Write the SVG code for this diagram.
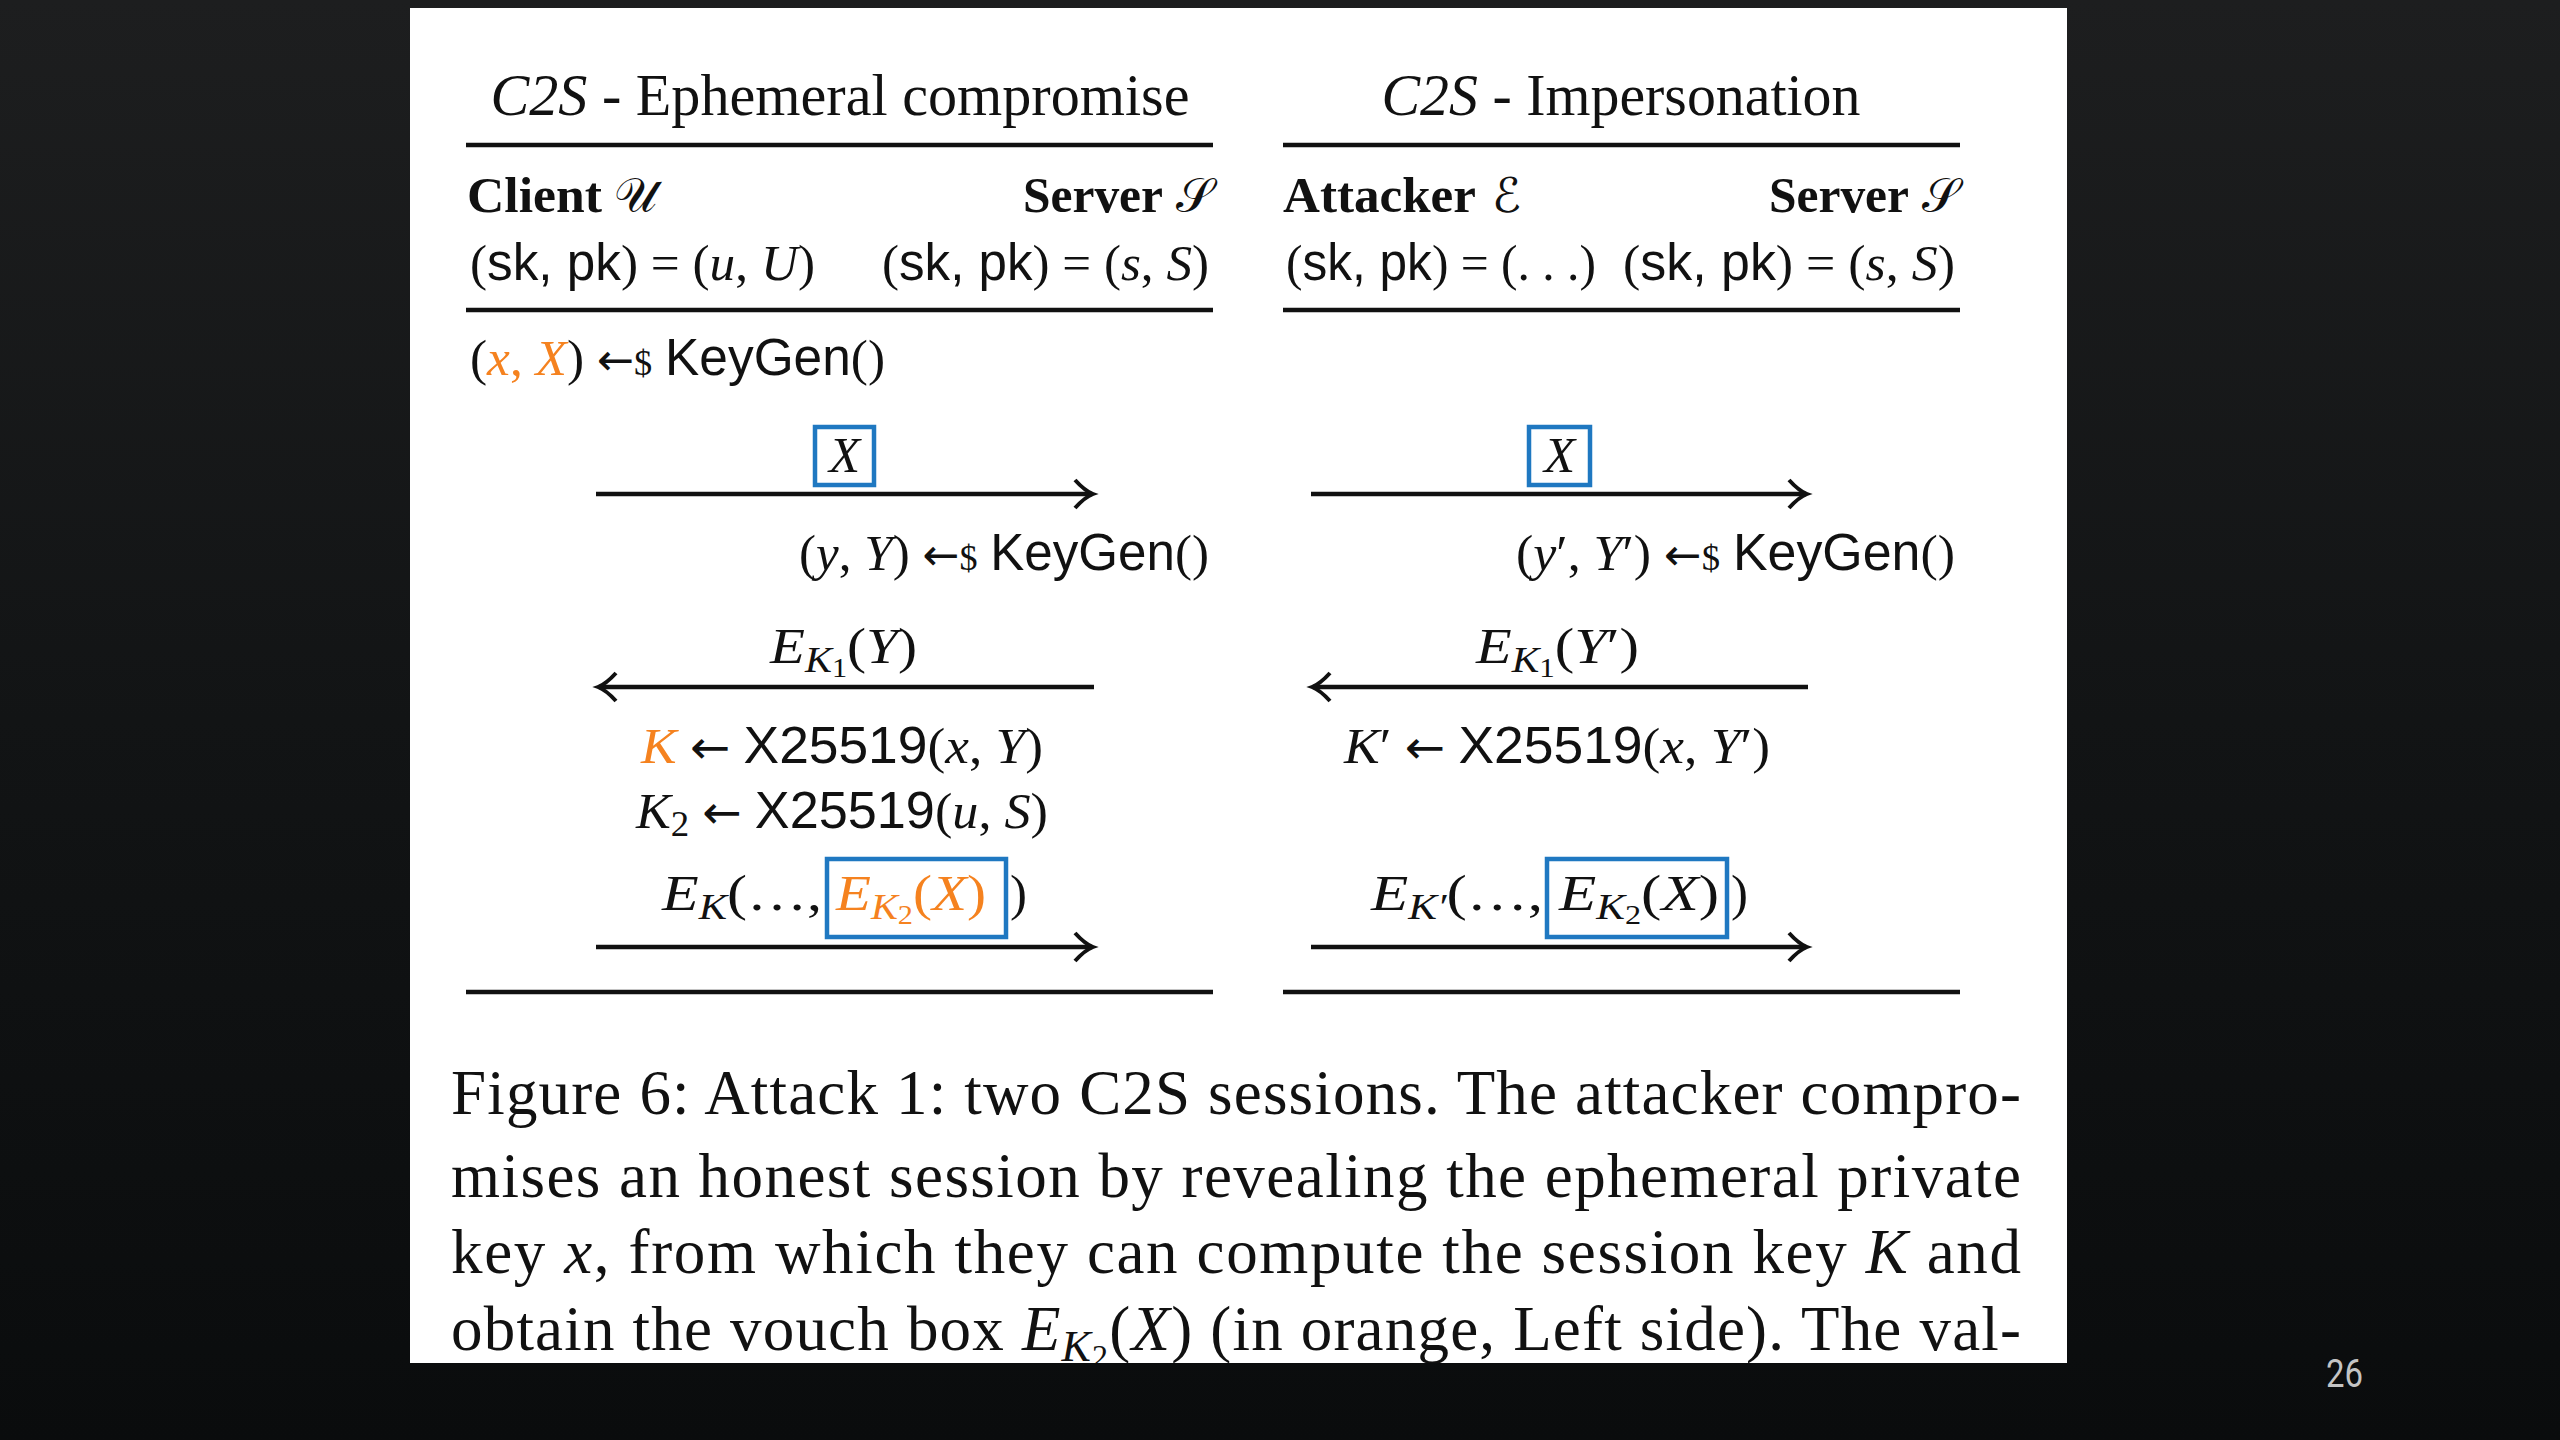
<svg xmlns="http://www.w3.org/2000/svg" width="2560" height="1440" viewBox="0 0 2560 1440">
<defs>
<style>
.sr{font-family:"Liberation Serif","Times New Roman",serif;fill:#111}
.it{font-style:italic}
.sf{font-family:"Liberation Sans","DejaVu Sans",sans-serif;font-style:normal}
.ar{font-family:"DejaVu Sans",sans-serif;font-style:normal;font-weight:normal}
.bd{font-weight:bold}
.or{fill:#f5821f}
.cal{font-family:"DejaVu Sans","Noto Sans",sans-serif;font-weight:normal;font-style:normal;font-size:48px;fill:#111}
.t{font-size:59px}
.b{font-size:51px}
.s1{font-size:36px}
.s2{font-size:27px}
.cap{font-size:63px}
.rule{stroke:#111;stroke-width:4.5}
.arrow{stroke:#111;stroke-width:4.5;fill:none;marker-end:url(#tip)}
.vbox{fill:none;stroke:#1f78c1;stroke-width:4.5}
</style>
<marker id="tip" markerUnits="userSpaceOnUse" viewBox="-22 -16 26 32" refX="0" refY="0" markerWidth="26" markerHeight="32" orient="auto" overflow="visible">
<path d="M-17,-14 Q-7,-3 1,0 Q-7,3 -17,14" fill="none" stroke="#111" stroke-width="4"/>
</marker>
<linearGradient id="bg" x1="0" y1="0" x2="0" y2="1">
<stop offset="0" stop-color="#1d1e1f"/>
<stop offset="0.5" stop-color="#121415"/>
<stop offset="1" stop-color="#0a0c0d"/>
</linearGradient>
<clipPath id="pc"><rect x="410" y="8" width="1657" height="1355"/></clipPath>
</defs>
<rect width="2560" height="1440" fill="url(#bg)"/>
<rect x="410" y="8" width="1657" height="1355" fill="#fff"/>

<g id="page-number"><text x="2326" y="1387" font-family="Roboto,sans-serif" font-size="38" fill="#c4c4c4" textLength="37" lengthAdjust="spacingAndGlyphs">26</text></g>

<g id="left-protocol">
<g id="left-title"><text class="sr t" x="840" y="115" text-anchor="middle" textLength="699" lengthAdjust="spacingAndGlyphs"><tspan class="it">C2S</tspan> - Ephemeral compromise</text></g>
<g id="left-rules">
<line class="rule" x1="466" y1="145" x2="1213" y2="145"/>
<line class="rule" x1="466" y1="310" x2="1213" y2="310" stroke="#333"/>
<line class="rule" x1="466" y1="992" x2="1213" y2="992"/>
</g>
<g id="client-u"><text class="sr b bd" x="467" y="212" textLength="135" lengthAdjust="spacingAndGlyphs">Client</text><text class="cal" x="614" y="212">𝒰</text>
<text class="sr b" x="470" y="280" textLength="345" lengthAdjust="spacingAndGlyphs">(<tspan class="sf">sk, pk</tspan>) = (<tspan class="it">u</tspan>, <tspan class="it">U</tspan>)</text></g>
<g id="server-s-left"><text class="sr b bd" x="1163" y="212" text-anchor="end" textLength="140" lengthAdjust="spacingAndGlyphs">Server</text><text class="cal" x="1176" y="212">𝒮</text>
<text class="sr b" x="1209" y="280" text-anchor="end" textLength="327" lengthAdjust="spacingAndGlyphs">(<tspan class="sf">sk, pk</tspan>) = (<tspan class="it">s</tspan>, <tspan class="it">S</tspan>)</text></g>
<g id="left-keygen-x"><text class="sr b" x="470" y="375" textLength="415" lengthAdjust="spacingAndGlyphs">(<tspan class="it or">x</tspan><tspan class="or">, </tspan><tspan class="it or">X</tspan>) <tspan class="ar" font-size="44">←</tspan><tspan class="s1">$</tspan> <tspan class="sf">KeyGen</tspan>()</text></g>
<g id="left-msg1"><rect class="vbox" x="815" y="427" width="59" height="58"/><text class="sr b it" x="844.5" y="472" text-anchor="middle">X</text></g>
<g id="left-keygen-y"><text class="sr b" x="1209" y="570" text-anchor="end" textLength="410" lengthAdjust="spacingAndGlyphs">(<tspan class="it">y</tspan>, <tspan class="it">Y</tspan>) <tspan class="ar" font-size="44">←</tspan><tspan class="s1">$</tspan> <tspan class="sf">KeyGen</tspan>()</text></g>
<g id="left-msg2"><text class="sr b" x="770" y="663" textLength="147" lengthAdjust="spacingAndGlyphs"><tspan class="it">E</tspan><tspan class="it s1" dy="9">K</tspan><tspan class="s2" dy="5">1</tspan><tspan dy="-14">(</tspan><tspan class="it">Y</tspan>)</text></g>
<g id="left-k"><text class="sr b" x="641" y="763" textLength="402" lengthAdjust="spacingAndGlyphs"><tspan class="it or">K</tspan> <tspan class="ar" font-size="46">←</tspan> <tspan class="sf">X25519</tspan>(<tspan class="it">x</tspan>, <tspan class="it">Y</tspan>)</text></g>
<g id="left-k2"><text class="sr b" x="636" y="828" textLength="412" lengthAdjust="spacingAndGlyphs"><tspan class="it">K</tspan><tspan class="s1" dy="8">2</tspan><tspan dy="-8"> </tspan><tspan class="ar" font-size="46">←</tspan> <tspan class="sf">X25519</tspan>(<tspan class="it">u</tspan>, <tspan class="it">S</tspan>)</text></g>
<g id="left-msg3">
<text class="sr b" x="662" y="910" textLength="160" lengthAdjust="spacingAndGlyphs"><tspan class="it">E</tspan><tspan class="it s1" dy="9">K</tspan><tspan dy="-9">(…,</tspan></text>
<rect class="vbox" x="827" y="859" width="179" height="78"/>
<text class="sr b or" x="836" y="910" textLength="150" lengthAdjust="spacingAndGlyphs"><tspan class="it">E</tspan><tspan class="it s1" dy="9">K</tspan><tspan class="s2" dy="5">2</tspan><tspan dy="-14">(</tspan><tspan class="it">X</tspan>)</text>
<text class="sr b" x="1010" y="910">)</text>
</g>
</g>

<g id="right-protocol">
<g id="right-title"><text class="sr t" x="1621" y="115" text-anchor="middle" textLength="479" lengthAdjust="spacingAndGlyphs"><tspan class="it">C2S</tspan> - Impersonation</text></g>
<g id="right-rules">
<line class="rule" x1="1283" y1="145" x2="1960" y2="145"/>
<line class="rule" x1="1283" y1="310" x2="1960" y2="310" stroke="#333"/>
<line class="rule" x1="1283" y1="992" x2="1960" y2="992"/>
</g>
<g id="attacker-e"><text class="sr b bd" x="1283" y="212" textLength="193" lengthAdjust="spacingAndGlyphs">Attacker</text><text class="cal" x="1492" y="212">ℰ</text>
<text class="sr b" x="1286" y="280" textLength="310" lengthAdjust="spacingAndGlyphs">(<tspan class="sf">sk, pk</tspan>) = (. . .)</text></g>
<g id="server-s-right"><text class="sr b bd" x="1909" y="212" text-anchor="end" textLength="140" lengthAdjust="spacingAndGlyphs">Server</text><text class="cal" x="1922" y="212">𝒮</text>
<text class="sr b" x="1955" y="280" text-anchor="end" textLength="332" lengthAdjust="spacingAndGlyphs">(<tspan class="sf">sk, pk</tspan>) = (<tspan class="it">s</tspan>, <tspan class="it">S</tspan>)</text></g>
<g id="right-msg1"><rect class="vbox" x="1529" y="427" width="61" height="58"/><text class="sr b it" x="1559.5" y="472" text-anchor="middle">X</text></g>
<g id="right-keygen-y"><text class="sr b" x="1955" y="570" text-anchor="end" textLength="439" lengthAdjust="spacingAndGlyphs">(<tspan class="it">y</tspan>′, <tspan class="it">Y</tspan>′) <tspan class="ar" font-size="44">←</tspan><tspan class="s1">$</tspan> <tspan class="sf">KeyGen</tspan>()</text></g>
<g id="right-msg2"><text class="sr b" x="1476" y="663" textLength="163" lengthAdjust="spacingAndGlyphs"><tspan class="it">E</tspan><tspan class="it s1" dy="9">K</tspan><tspan class="s2" dy="5">1</tspan><tspan dy="-14">(</tspan><tspan class="it">Y</tspan>′)</text></g>
<g id="right-k"><text class="sr b" x="1344" y="763" textLength="426" lengthAdjust="spacingAndGlyphs"><tspan class="it">K</tspan>′ <tspan class="ar" font-size="46">←</tspan> <tspan class="sf">X25519</tspan>(<tspan class="it">x</tspan>, <tspan class="it">Y</tspan>′)</text></g>
<g id="right-msg3">
<text class="sr b" x="1371" y="910" textLength="172" lengthAdjust="spacingAndGlyphs"><tspan class="it">E</tspan><tspan class="it s1" dy="9">K′</tspan><tspan dy="-9">(…,</tspan></text>
<rect class="vbox" x="1547" y="859" width="180" height="78"/>
<text class="sr b" x="1559" y="910" textLength="160" lengthAdjust="spacingAndGlyphs"><tspan class="it">E</tspan><tspan class="it s1" dy="9">K</tspan><tspan class="s2" dy="5">2</tspan><tspan dy="-14">(</tspan><tspan class="it">X</tspan>)</text>
<text class="sr b" x="1731" y="910">)</text>
</g>
</g>

<g id="connectors">
<line class="arrow" x1="596" y1="494" x2="1092" y2="494"/>
<line class="arrow" x1="1094" y1="687" x2="599" y2="687"/>
<line class="arrow" x1="596" y1="947" x2="1092" y2="947"/>
<line class="arrow" x1="1311" y1="494" x2="1806" y2="494"/>
<line class="arrow" x1="1808" y1="687" x2="1313" y2="687"/>
<line class="arrow" x1="1311" y1="947" x2="1806" y2="947"/>
</g>

<g id="caption" clip-path="url(#pc)">
<text class="sr cap" x="451" y="1114" textLength="1570" lengthAdjust="spacing">Figure 6: Attack 1: two C2S sessions. The attacker compro-</text>
<text class="sr cap" x="451" y="1197" textLength="1570" lengthAdjust="spacing">mises an honest session by revealing the ephemeral private</text>
<text class="sr cap" x="451" y="1273" textLength="1570" lengthAdjust="spacing">key <tspan class="it">x</tspan>, from which they can compute the session key <tspan class="it">K</tspan> and</text>
<text class="sr cap" x="451" y="1350" textLength="1570" lengthAdjust="spacing">obtain the vouch box <tspan class="it">E</tspan><tspan class="it" font-size="44" dy="11">K</tspan><tspan font-size="32" dy="6">2</tspan><tspan dy="-17">(</tspan><tspan class="it">X</tspan>) (in orange, Left side). The val-</text>
</g>
</svg>
